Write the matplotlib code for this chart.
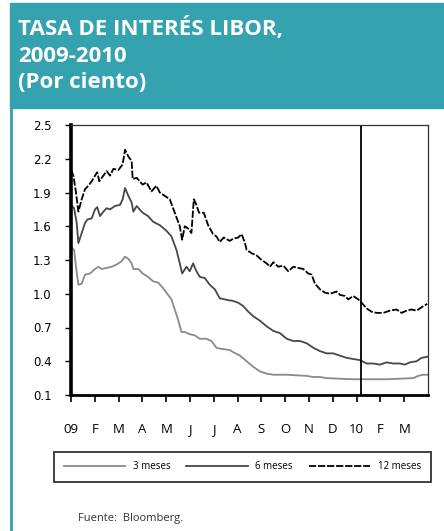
import matplotlib
matplotlib.use('Agg')
import matplotlib.pyplot as plt
from matplotlib.patches import Rectangle
from matplotlib.lines import Line2D

# time in months since 1 Jan 2009, values in percent
t_12m = [0.00, 0.10, 0.21, 0.31, 0.45, 0.59, 0.73, 0.87, 1.01, 1.10, 1.19, 1.36, 1.50, 1.64, 1.78, 1.99,
         2.17, 2.27, 2.41, 2.55, 2.59, 2.76, 3.01, 3.17, 3.38, 3.59, 3.73, 4.01, 4.15, 4.36, 4.57, 4.67,
         4.78, 4.92, 5.06, 5.16, 5.27, 5.38, 5.58, 5.76, 5.97, 6.11, 6.25, 6.42, 6.67, 6.82, 7.03, 7.17,
         7.31, 7.38, 7.59, 7.80, 8.01, 8.22, 8.36, 8.50, 8.71, 8.92, 9.13, 9.34, 9.55, 9.76, 9.97, 10.11,
         10.25, 10.46, 10.67, 10.88, 11.16, 11.30, 11.51, 11.65, 11.86, 12.07, 12.21, 12.42, 12.63, 12.84,
         13.12, 13.40, 13.68, 13.89, 14.10, 14.31, 14.52, 14.73, 14.97]
v_12m = [2.10, 2.05, 1.90, 1.73, 1.84, 1.93, 1.96, 2.00, 2.05, 2.08, 2.00, 2.05, 2.09, 2.05, 2.11, 2.10,
         2.15, 2.28, 2.22, 2.18, 2.02, 2.03, 1.97, 1.99, 1.91, 1.96, 1.90, 1.86, 1.84, 1.72, 1.60, 1.48,
         1.60, 1.58, 1.54, 1.84, 1.79, 1.72, 1.72, 1.61, 1.53, 1.51, 1.46, 1.50, 1.47, 1.49, 1.50, 1.53,
         1.45, 1.39, 1.36, 1.34, 1.30, 1.27, 1.24, 1.28, 1.24, 1.25, 1.20, 1.24, 1.23, 1.22, 1.18, 1.17,
         1.09, 1.04, 1.01, 1.00, 1.02, 0.99, 0.98, 0.95, 0.98, 0.95, 0.92, 0.87, 0.84, 0.83,
         0.83, 0.85, 0.86, 0.83, 0.85, 0.86, 0.85, 0.88, 0.91]

t_6m = [0.00, 0.13, 0.24, 0.31, 0.45, 0.59, 0.69, 0.87, 1.01, 1.10, 1.22, 1.36, 1.50, 1.64, 1.85, 2.06,
        2.17, 2.27, 2.41, 2.55, 2.62, 2.76, 3.01, 3.24, 3.45, 3.73, 4.01, 4.22, 4.43, 4.57, 4.67, 4.85,
        4.99, 5.13, 5.27, 5.41, 5.62, 5.83, 6.04, 6.25, 6.46, 6.67, 6.75, 7.03, 7.24, 7.45, 7.66, 7.94,
        8.22, 8.50, 8.78, 9.06, 9.34, 9.62, 9.90, 10.18, 10.46, 10.74, 11.02, 11.30, 11.58, 11.86, 12.14,
        12.42, 12.70, 12.98, 13.26, 13.54, 13.82, 14.03, 14.24, 14.52, 14.73, 14.97]
v_6m = [1.79, 1.76, 1.63, 1.45, 1.54, 1.63, 1.66, 1.67, 1.75, 1.77, 1.69, 1.73, 1.76, 1.75, 1.78, 1.79,
        1.84, 1.94, 1.87, 1.81, 1.73, 1.78, 1.72, 1.69, 1.64, 1.61, 1.56, 1.51, 1.39, 1.27, 1.18, 1.24,
        1.20, 1.27, 1.20, 1.15, 1.14, 1.08, 1.04, 0.96, 0.95, 0.94, 0.94, 0.92, 0.89, 0.84, 0.80, 0.76,
        0.71, 0.67, 0.65, 0.60, 0.58, 0.58, 0.56, 0.52, 0.49, 0.47, 0.47, 0.45, 0.43, 0.42, 0.41,
        0.38, 0.38, 0.37, 0.39, 0.38, 0.38, 0.37, 0.39, 0.40, 0.43, 0.44]

t_3m = [0.00, 0.13, 0.21, 0.31, 0.45, 0.59, 0.80, 1.01, 1.15, 1.29, 1.50, 1.71, 1.92, 2.13, 2.27, 2.41,
        2.55, 2.62, 2.83, 3.01, 3.24, 3.45, 3.66, 3.87, 4.01, 4.22, 4.36, 4.50, 4.64, 4.78, 4.99, 5.20,
        5.41, 5.69, 5.90, 6.11, 6.32, 6.67, 6.82, 7.10, 7.38, 7.66, 7.94, 8.22, 8.50, 9.06, 9.90, 10.18,
        10.46, 10.74, 11.86, 13.26, 14.38, 14.59, 14.80, 14.97]
v_3m = [1.42, 1.39, 1.24, 1.08, 1.09, 1.17, 1.18, 1.22, 1.24, 1.22, 1.23, 1.24, 1.26, 1.29, 1.33, 1.31,
        1.27, 1.22, 1.22, 1.18, 1.15, 1.11, 1.10, 1.05, 1.01, 0.95, 0.86, 0.77, 0.66, 0.66, 0.64, 0.63,
        0.60, 0.60, 0.58, 0.52, 0.51, 0.50, 0.48, 0.45, 0.40, 0.35, 0.31, 0.29, 0.28, 0.28, 0.27, 0.26,
        0.26, 0.25, 0.24, 0.24, 0.25, 0.27, 0.28, 0.28]

month_labels = ['09', 'F', 'M', 'A', 'M', 'J', 'J', 'A', 'S', 'O', 'N', 'D', '10', 'F', 'M']
y_ticks = [0.1, 0.4, 0.7, 1.0, 1.3, 1.6, 1.9, 2.2, 2.5]
year_break = 12.2

teal = '#35a2b0'

fig = plt.figure(figsize=(4.44, 5.31), dpi=100)

# teal header and left border
fig.patches.append(Rectangle((10 / 444, 1 - 108 / 531), 1 - 10 / 444, 105 / 531,
                             transform=fig.transFigure, color=teal, zorder=0))
fig.lines.append(Line2D([11 / 444, 11 / 444], [0, 1 - 108 / 531], transform=fig.transFigure,
                        color=teal, lw=2))

title_lines = ['TASA DE INTERÉS LIBOR,', '2009-2010', '(Por ciento)']
for i, line in enumerate(title_lines):
    fig.text(18 / 444, 1 - (29 + i * 27) / 531, line, color='white', fontsize=16,
             fontweight='bold', family='Open Sans', va='center', ha='left')

ax = fig.add_axes([71 / 444, 1 - 395 / 531, (428 - 71) / 444, (395 - 125) / 531])

l3, = ax.plot(t_3m, v_3m, color='#8a8a8a', lw=1.3, label='3 meses')
l6, = ax.plot(t_6m, v_6m, color='#474747', lw=1.3, label='6 meses')
l12, = ax.plot(t_12m, v_12m, color='black', lw=1.3, ls=(0, (4, 1)), label='12 meses')
ax.axvline(year_break, color='black', lw=1.3)

ax.set_xlim(0, 15)
ax.set_ylim(0.1, 2.5)
ax.set_xticks(range(len(month_labels)))
ax.set_xticklabels(month_labels, family='Open Sans', fontsize=9.5)
ax.set_yticks(y_ticks)
ax.set_yticklabels([f'{v:.1f}' for v in y_ticks], fontsize=8.5)
ax.tick_params(axis='x', direction='out', length=5, width=1.2, pad=15)
ax.tick_params(axis='y', direction='out', length=4, width=1, pad=10)

ax.spines['left'].set_linewidth(2.6)
ax.spines['bottom'].set_linewidth(2.0)
ax.spines['top'].set_linewidth(0.9)
ax.spines['right'].set_linewidth(0.9)
ax.spines['top'].set_color('#333333')
ax.spines['right'].set_color('#333333')

leg = fig.legend(handles=[l3, l6, l12], loc='lower left', ncol=3, mode='expand',
                 bbox_to_anchor=(54 / 444, 1 - 482 / 531, (431 - 54) / 444, (482 - 449) / 531),
                 fancybox=False, edgecolor='black', handlelength=6.3,
                 prop={'family': 'Open Sans', 'size': 7}, borderpad=1.0, columnspacing=1.4,
                 handletextpad=0.8, borderaxespad=0)
leg.get_frame().set_linewidth(1.3)

fig.text(78 / 444, 1 - 519 / 531, 'Fuente:  Bloomberg.', fontsize=8, color='#333333',
         family='Open Sans', va='center', ha='left')

fig.savefig('out.png', dpi=100)
